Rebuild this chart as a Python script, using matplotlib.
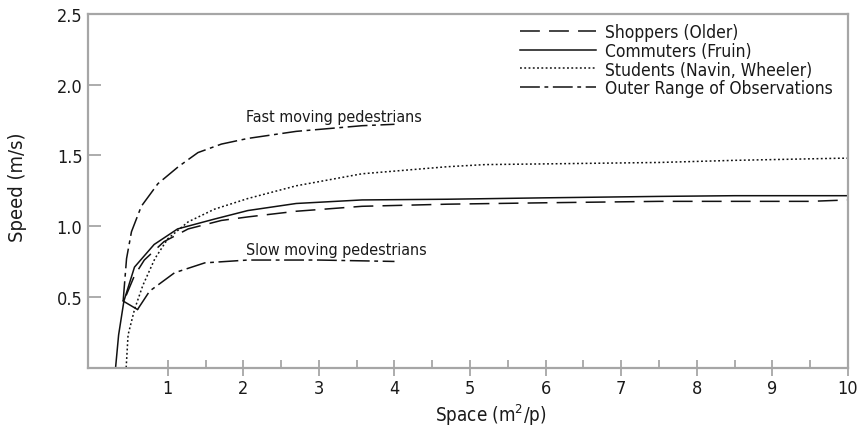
import matplotlib
matplotlib.use("Agg")
import matplotlib.pyplot as plt
from matplotlib.ticker import FixedLocator

plt.rcParams['font.family'] = ['DejaVu Sans']
plt.rcParams['font.stretch'] = 'condensed'
plt.rcParams['mathtext.fontset'] = 'custom'
plt.rcParams['mathtext.rm'] = 'DejaVu Sans:stretch=condensed'
plt.rcParams['mathtext.it'] = 'DejaVu Sans:stretch=condensed'

# ---- data ----
shoppers_x = [0.45, 0.56, 0.69, 0.95, 1.27, 1.71, 2.06, 2.70, 3.57, 4.7, 6.0, 7.5, 8.5, 9.5, 10.0]
shoppers_y = [0.51, 0.65, 0.76, 0.89, 0.98, 1.04, 1.065, 1.105, 1.14, 1.155, 1.165, 1.175, 1.175, 1.175, 1.185]

commuters_x = [0.31, 0.35, 0.42, 0.56, 0.82, 1.13, 1.62, 2.06, 2.70, 3.57, 4.7, 6.0, 7.5, 8.5, 10.0]
commuters_y = [0.0, 0.23, 0.47, 0.71, 0.87, 0.98, 1.05, 1.11, 1.16, 1.185, 1.19, 1.20, 1.21, 1.215, 1.215]

students_x = [0.45, 0.475, 0.56, 0.67, 0.83, 1.0, 1.27, 1.62, 2.06, 2.70, 3.57, 4.7, 5.2, 6.0, 7.5, 8.5, 9.9, 10.0]
students_y = [0.0, 0.23, 0.41, 0.58, 0.77, 0.91, 1.03, 1.12, 1.195, 1.285, 1.37, 1.42, 1.435, 1.44, 1.45, 1.465, 1.48, 1.48]

fast_x = [0.41, 0.455, 0.52, 0.65, 0.87, 1.14, 1.40, 1.71, 2.06, 2.70, 3.57, 4.0]
fast_y = [0.47, 0.77, 0.96, 1.14, 1.30, 1.42, 1.52, 1.58, 1.62, 1.67, 1.71, 1.72]

slow_x = [0.60, 0.76, 1.09, 1.49, 2.06, 3.0, 4.0]
slow_y = [0.41, 0.54, 0.67, 0.74, 0.76, 0.76, 0.75]

x_major = [1, 2, 3, 4, 5, 6, 7, 8, 9, 10]
x_minor = [1.5, 2.5, 3.5, 4.5, 5.5, 6.5, 7.5, 8.5, 9.5]
y_major = [0.5, 1.0, 1.5, 2.0, 2.5]
y_labels = ['0.5', '1.0', '1.5', '2.0', '2.5']

labels = ['Shoppers (Older)', 'Commuters (Fruin)', 'Students (Navin, Wheeler)',
          'Outer Range of Observations']

# ---- figure ----
fig = plt.figure(figsize=(8.62, 4.27), dpi=100)
ax = fig.add_axes([88/862, 1-368.5/427, 760/862, 353.5/427])

ink = '#111111'
lw = 1.1
ax.plot(shoppers_x, shoppers_y, color=ink, lw=lw, linestyle=(0, (13, 6)), label=labels[0])
ax.plot(commuters_x, commuters_y, color=ink, lw=lw, linestyle='-', label=labels[1])
ax.plot(students_x, students_y, color=ink, lw=lw, linestyle=(0, (1.2, 1.6)), label=labels[2])
dashdot = (0, (13, 3, 2.5, 3))
ax.plot(fast_x, fast_y, color=ink, lw=lw, linestyle=dashdot, label=labels[3])
ax.plot(slow_x, slow_y, color=ink, lw=lw, linestyle=dashdot)
ax.plot([fast_x[0], slow_x[0]], [fast_y[0], slow_y[0]], color=ink, lw=lw, linestyle='-')

ax.set_xlim(-0.055, 10)
ax.set_ylim(0, 2.5)

spine_c = '#a6a6a6'
for s in ax.spines.values():
    s.set_color(spine_c)
    s.set_linewidth(1.6)

ax.xaxis.set_major_locator(FixedLocator(x_major))
ax.xaxis.set_minor_locator(FixedLocator(x_minor))
ax.set_xticklabels([str(v) for v in x_major])
ax.set_yticks(y_major)
ax.set_yticklabels(y_labels)
ax.tick_params(axis='x', which='major', direction='inout', length=12, width=1.3,
               color=spine_c, labelsize=13, pad=2, labelcolor='#1a1a1a')
ax.tick_params(axis='x', which='minor', direction='in', length=6, width=1.3, color=spine_c)
ax.tick_params(axis='y', which='major', direction='in', length=9, width=1.3,
               color=spine_c, labelsize=13, pad=4, labelcolor='#1a1a1a')

ax.set_xlabel('Space (m$^2$/p)', fontsize=13.5, color='#1a1a1a', va='baseline')
ax.set_ylabel('Speed (m/s)', fontsize=14.5, color='#1a1a1a', va='center')
ax.xaxis.set_label_coords(0.53, -0.151)
ax.yaxis.set_label_coords(-0.093, 0.512)

ax.text(2.04, 1.745, 'Fast moving pedestrians', fontsize=11.5, color='#1a1a1a', va='baseline')
ax.text(2.04, 0.80, 'Slow moving pedestrians', fontsize=11.5, color='#1a1a1a', va='baseline')

leg = ax.legend(loc='upper left', bbox_to_anchor=(0.568, 0.975), frameon=False,
                prop={'size': 12.5, 'stretch': 'condensed'},
                handlelength=4.4, handletextpad=0.5, labelspacing=0.05,
                borderpad=0, borderaxespad=0)
for t in leg.get_texts():
    t.set_color('#1a1a1a')

fig.savefig('out.png', dpi=100)
